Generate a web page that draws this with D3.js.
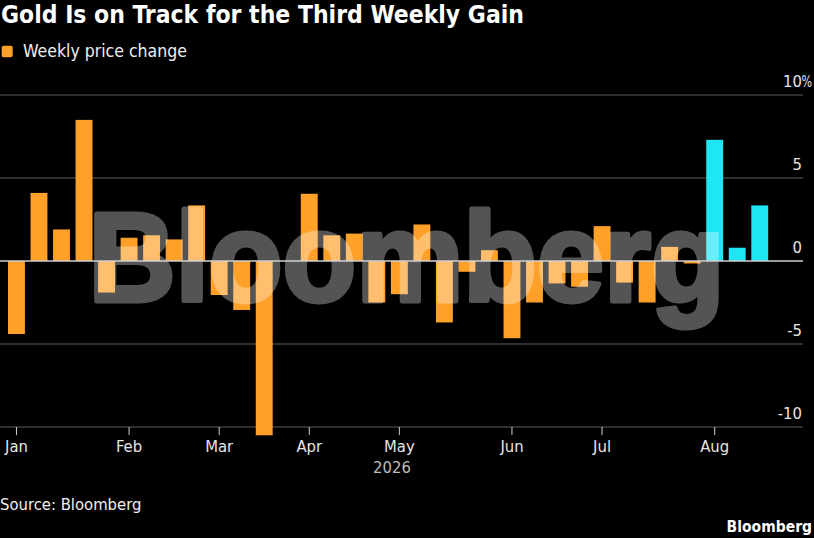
<!DOCTYPE html>
<html>
<head>
<meta charset="utf-8">
<script src="https://cdn.jsdelivr.net/npm/d3@7"></script>
<style>
  html, body { margin: 0; padding: 0; background: #000; }
  svg { display: block; }
  text { font-family: "DejaVu Sans Condensed", "Liberation Sans Narrow", "DejaVu Sans", sans-serif; }
</style>
</head>
<body>
<svg id="chart" width="814" height="538"></svg>
<script>
// ---- Data ----
const weeks = [
  "2026-01-02","2026-01-09","2026-01-16","2026-01-23","2026-01-30",
  "2026-02-06","2026-02-13","2026-02-20","2026-02-27",
  "2026-03-06","2026-03-13","2026-03-20","2026-03-27",
  "2026-04-03","2026-04-10","2026-04-17","2026-04-24",
  "2026-05-01","2026-05-08","2026-05-15","2026-05-22","2026-05-29",
  "2026-06-05","2026-06-12","2026-06-19","2026-06-26",
  "2026-07-03","2026-07-10","2026-07-17","2026-07-24","2026-07-31",
  "2026-08-07","2026-08-14","2026-08-21"
];
const weeklyChange = [
  -4.4, 4.1, 1.9, 8.5, -1.9,
  1.4, 1.55, 1.3, 3.35,
  -2.05, -2.95, -10.5, 0,
  4.05, 1.55, 1.65, -2.5,
  -2.0, 2.2, -3.7, -0.65, 0.65,
  -4.65, -2.5, -1.35, -1.55,
  2.1, -1.3, -2.5, 0.85, -0.15,
  7.3, 0.8, 3.35
];
const highlightWeeks = ["2026-08-07","2026-08-14","2026-08-21"];
const yTicks = [-10, -5, 0, 5, 10];
const monthTickWeeks = ["2026-01-02","2026-02-06","2026-03-06","2026-04-03","2026-05-01","2026-06-05","2026-07-03","2026-08-07"];
const monthLabels = ["Jan","Feb","Mar","Apr","May","Jun","Jul","Aug"];
const yearLabel = "2026";

// ---- Styles ----
const ORANGE = "#ffa028";
const CYAN = "#1ee6f5";

const svg = d3.select("#chart");
svg.append("rect").attr("width", 814).attr("height", 538).attr("fill", "#000");

const x = d3.scaleBand()
  .domain(weeks)
  .range([5.2, 771])
  .paddingInner(0.25)
  .paddingOuter(0.125);

const y = d3.scaleLinear().domain([-10, 10]).range([427, 95]);

const gridRight = 803;

// Title
svg.append("text")
  .attr("x", 1).attr("y", 23)
  .attr("fill", "#fff")
  .attr("font-size", 25)
  .attr("font-weight", "bold")
  .attr("textLength", 523)
  .attr("lengthAdjust", "spacingAndGlyphs")
  .text("Gold Is on Track for the Third Weekly Gain");

// Legend
svg.append("rect")
  .attr("x", 1.7).attr("y", 45.7).attr("width", 11).attr("height", 11.5)
  .attr("rx", 2).attr("fill", ORANGE);
svg.append("text")
  .attr("x", 23).attr("y", 57.3)
  .attr("fill", "#f0f0f0")
  .attr("font-size", 17.5)
  .text("Weekly price change");

// Gridlines
svg.append("g").selectAll("line")
  .data(yTicks.filter(d => d !== 0))
  .join("line")
  .attr("x1", 0).attr("x2", gridRight)
  .attr("y1", d => y(d)).attr("y2", d => y(d))
  .attr("stroke", "#5e5e5e").attr("stroke-width", 1);

// Y labels
const yl = svg.append("g");
yl.selectAll("text.num")
  .data(yTicks)
  .join("text")
  .attr("class", "num")
  .attr("x", 802)
  .attr("y", d => y(d) - 8)
  .attr("text-anchor", "end")
  .attr("fill", "#e6e6e6")
  .attr("font-size", 16.5)
  .text(d => d);
yl.append("text")
  .attr("x", 801.5).attr("y", y(10) - 8)
  .attr("fill", "#e6e6e6")
  .attr("font-size", 16)
  .attr("textLength", 10.5)
  .attr("lengthAdjust", "spacingAndGlyphs")
  .text("%");

// Bars
svg.append("g").selectAll("rect")
  .data(weeks.map((w, i) => ({ w, v: weeklyChange[i] })))
  .join("rect")
  .attr("x", d => x(d.w))
  .attr("width", x.bandwidth())
  .attr("y", d => y(Math.max(0, d.v)))
  .attr("height", d => Math.abs(y(d.v) - y(0)))
  .attr("fill", d => highlightWeeks.includes(d.w) ? CYAN : ORANGE);

// Watermark
svg.append("g")
  .attr("opacity", 0.33)
  .append("text")
  .attr("x", 88.5).attr("y", 300.5)
  .attr("fill", "#ffffff")
  .attr("stroke", "#ffffff").attr("stroke-width", 5).attr("stroke-linejoin", "round")
  .style("font-family", "'Liberation Sans', Arial, sans-serif")
  .attr("font-weight", "bold")
  .attr("font-size", 127)
  .attr("textLength", 636)
  .attr("lengthAdjust", "spacingAndGlyphs")
  .text("Bloomberg");

// Zero line
svg.append("line")
  .attr("x1", 0).attr("x2", gridRight)
  .attr("y1", y(0)).attr("y2", y(0))
  .attr("stroke", "#cfcfcf").attr("stroke-width", 1.5);

// X axis
const xAxis = d3.axisBottom(x)
  .tickValues(monthTickWeeks)
  .tickFormat((d, i) => monthLabels[i])
  .tickSize(8)
  .tickPadding(5);
const gx = svg.append("g").attr("transform", `translate(0,${y(-10)})`).call(xAxis);
gx.select(".domain").remove();
gx.selectAll(".tick line").attr("stroke", "#cfcfcf");
gx.selectAll(".tick text")
  .attr("fill", "#e6e6e6")
  .attr("font-size", 16.5)
  .style("font-family", "'DejaVu Sans Condensed', 'DejaVu Sans', sans-serif");

svg.append("text")
  .attr("x", 392).attr("y", 473)
  .attr("text-anchor", "middle")
  .attr("fill", "#bdbdbd")
  .attr("font-size", 16.5)
  .text(yearLabel);

// Source
svg.append("text")
  .attr("x", 0).attr("y", 510)
  .attr("fill", "#f0f0f0")
  .attr("font-size", 16.5)
  .text("Source: Bloomberg");

svg.append("text")
  .attr("x", 812).attr("y", 532)
  .attr("text-anchor", "end")
  .attr("fill", "#fff")
  .attr("font-size", 15.5)
  .attr("font-weight", "bold")
  .text("Bloomberg");
</script>
</body>
</html>
